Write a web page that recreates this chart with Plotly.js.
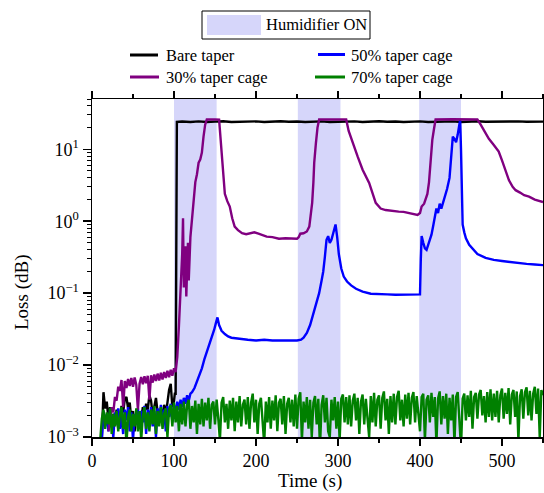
<!DOCTYPE html>
<html>
<head>
<meta charset="utf-8">
<script src="https://cdn.plot.ly/plotly-3.0.1.min.js"></script>
<style>html,body{margin:0;padding:0;background:#fff;}#chart{width:544px;height:493px;}</style>
</head>
<body>
<div id="chart"></div>
<script>
// ---------------- DATA ----------------
const humidStart = [100, 251, 399];
const humidEnd   = [152, 303, 450];

const yTickVals = [0.001, 0.01, 0.1, 1, 10];
const yTickText = ['10<sup>\u22123</sup>', '10<sup>\u22122</sup>', '10<sup>\u22121</sup>', '10<sup>0</sup>', '10<sup>1</sup>'];
const xTickVals = [0, 100, 200, 300, 400, 500];

const seriesNames = ['Bare taper', '50% taper cage', '30% taper cage', '70% taper cage'];

const bareT = [12,14,16,18,20,22,24,26,28,30,32,34,36,38,40,42,44,46,48,50,
  52,54,56,58,60,62,64,66,68,70,72,74,76,78,80,82,84,86,88,90,
  92,94,96,98,100,101,102,102.5,103,103.5,110,120,130,140,150,160,170,180,190,200,
  210,220,230,240,250,260,270,280,290,300,310,320,330,340,350,360,370,380,390,400,
  410,420,430,440,450,460,470,480,490,500,510,520,530,540,550];
const bareV = [0.0010,0.0042,0.0025,0.0031,0.0018,0.0026,0.0014,0.0021,0.0016,0.0024,
  0.0013,0.0019,0.0027,0.0022,0.0034,0.0036,0.0025,0.0030,0.0017,0.0023,
  0.0012,0.0020,0.0015,0.0022,0.0018,0.0026,0.0021,0.0029,0.0024,0.0038,
  0.0032,0.0020,0.0027,0.0035,0.0022,0.0016,0.0025,0.0019,0.0028,0.0021,
  0.0030,0.0045,0.0055,0.0026,0.0032,0.0040,0.0040,0.15,0.2,24,
  24.3,24.0,24.4,23.9,24.2,24.5,24.0,24.3,24.1,24.4,
  24.0,24.2,24.5,24.1,24.3,23.9,24.2,24.4,24.0,24.3,
  24.1,24.4,24.0,24.2,24.5,24.1,24.3,23.9,24.2,24.4,
  24.0,24.3,24.1,24.4,24.0,24.2,24.5,24.1,24.3,24.0,
  24.2,24.4,24.1,24.3,24.2];

const cage50T = [12,14,16,18,20,22,24,26,28,30,32,34,36,38,40,42,44,46,48,50,
  52,54,56,58,60,62,64,66,68,70,72,74,76,78,80,82,84,86,88,90,
  92,94,96,98,100,102,104,106,108,110,112,114,116,118,120,122,125,128,
  131,134,137,140,143,146,149,151,153,155,158,162,166,170,175,180,190,200,210,220,
  230,240,250,255,258,262,266,270,274,277,280,282,284,286,288,290,292,294,296,297,
  299,301,304,307,311,316,322,330,340,350,360,370,380,390,400,401,402,404,406,408,
  411,414,416,418,420,422,424,426,428,430,433,436,438,440,442,444,446,448,449,450,
  451,452,454,456,460,465,470,480,490,500,510,520,530,540,550];
const cage50V = [0.0009,0.0023,0.0014,0.0021,0.0012,0.0024,0.0016,0.0010,0.0022,0.0015,
  0.0025,0.0013,0.0020,0.0011,0.0024,0.0017,0.0026,0.0012,0.0022,0.0009,
  0.0021,0.0015,0.0025,0.0013,0.0023,0.0016,0.0027,0.0011,0.0024,0.0018,
  0.0026,0.0014,0.0023,0.0010,0.0025,0.0017,0.0028,0.0015,0.0024,0.0012,
  0.0027,0.0019,0.0029,0.0016,0.0028,0.0021,0.0031,0.0024,0.0033,0.0026,
  0.0035,0.0029,0.0038,0.0032,0.0040,0.0042,0.0048,0.0058,
  0.0072,0.0090,0.012,0.015,0.019,0.025,0.031,0.038,0.046,0.036,
  0.030,0.027,0.025,0.024,0.0235,0.023,0.0225,0.022,0.0225,0.022,
  0.0222,0.022,0.022,0.0225,0.024,0.028,0.036,0.052,0.075,0.10,
  0.15,0.2,0.32,0.55,0.62,0.5,0.55,0.7,0.85,0.9,
  0.6,0.35,0.22,0.17,0.145,0.128,0.115,0.105,0.098,0.096,
  0.096,0.095,0.096,0.095,0.096,0.3,0.62,0.5,0.42,0.4,
  0.5,0.65,0.85,1.2,1.5,1.3,1.75,1.5,1.8,2.0,
  2.8,4,8,15,14,12.5,16,25,26,10,
  1.5,0.9,0.7,0.58,0.47,0.4,0.35,0.31,0.29,0.28,
  0.27,0.265,0.255,0.25,0.245];

const cage30T = [20,22,24,26,28,30,32,34,36,38,40,42,44,46,48,50,52,54,56,58,
  60,62,64,66,68,70,72,74,76,78,80,82,84,86,88,90,92,94,96,98,100,102,
  104,106,108,110,111,112,114,115,117,118,120,122,124,126,128,130,132,134,136,138,
  140,145,150,155,157,159,162,165,168,171,174,178,183,188,193,198,203,208,213,220,
  228,236,244,250,252,254,258,262,265,267,268.5,270,271,273,275,277,290,300,310,313,
  318,324,330,338,346,352,358,366,374,380,388,397,400,402,405,407,409,411,413,415,
  417,419,440,460,470,474,478,484,490,496,500,504,508.5,513,516.6,522,527,533,540,550];
const cage30V = [0.0012,0.0018,0.0026,0.0022,0.0036,0.0032,0.0050,0.0044,0.0062,0.0026,
  0.0060,0.0048,0.0064,0.0051,0.0066,0.0050,0.0067,0.0053,0.0024,0.0055,
  0.0068,0.0054,0.0070,0.0056,0.0071,0.0033,0.0072,0.0057,0.0074,0.0060,
  0.0076,0.0061,0.0078,0.0063,0.0080,0.0066,0.0083,0.0068,0.0086,0.0071,0.0090,0.0080,
  0.013,0.035,0.09,0.35,1.1,0.12,0.45,0.09,0.5,0.15,
  0.6,1.2,2.2,3.5,4.5,6.5,7.2,9,15,22,
  26,26.2,26,25.8,12,6.4,2.4,1.9,1.6,1.1,
  0.84,0.75,0.68,0.66,0.68,0.7,0.67,0.64,0.61,0.6,
  0.57,0.58,0.57,0.57,0.6,0.67,0.68,0.72,0.84,1.2,
  1.8,3.5,6.5,12,20,26,26.2,26,26,18,
  12,7.9,5.2,3.4,1.8,1.5,1.43,1.38,1.36,1.35,
  1.28,1.22,1.3,1.6,1.75,2.1,2.4,3.5,8,13.5,
  19,26,26.2,26,26,22,18,14,11.5,9.3,
  7,5.2,3.7,3.0,2.7,2.5,2.3,2.2,2.0,1.85];

const cage70T = [10,12,14,16,18,20,22,24,26,28,30,32,34,36,38,40,42,44,46,48,
  50,52,54,56,58,60,62,64,66,68,70,72,74,76,78,80,82,84,86,88,
  90,92,94,96,98,100,102,104,106,108,110,112,114,116,118,120,122,124,126,128,
  130,132,134,136,138,140,142,144,146,148,150,152,154,156,158,160,162,164,166,168,
  170,172,174,176,178,180,182,184,186,188,190,192,194,196,198,200,202,204,206,208,
  210,212,214,216,218,220,222,224,226,228,230,232,234,236,238,240,242,244,246,248,
  250,252,254,256,258,260,262,264,266,268,270,272,274,276,278,280,282,284,286,288,
  290,292,294,296,298,300,302,304,306,308,310,312,314,316,318,320,322,324,326,328,
  330,332,334,336,338,340,342,344,346,348,350,352,354,356,358,360,362,364,366,368,
  370,372,374,376,378,380,382,384,386,388,390,392,394,396,398,400,402,404,406,408,
  410,412,414,416,418,420,422,424,426,428,430,432,434,436,438,440,442,444,446,448,
  450,452,454,456,458,460,462,464,466,468,470,472,474,476,478,480,482,484,486,488,
  490,492,494,496,498,500,502,504,506,508,510,512,514,516,518,520,522,524,526,528,
  530,532,534,536,538,540,542,544,546,548,550];
const cage70V = [
  0.0009,0.0018,0.0024,0.0013,0.0022,0.0015,0.0025,0.0011,0.0021,0.0014,
  0.0023,0.0012,0.0020,0.0026,0.0013,0.0022,0.0008,0.0019,0.0024,0.0012,
  0.0021,0.0014,0.0025,0.0012,0.0023,0.0009,0.0020,0.0026,0.0013,0.0022,
  0.0012,0.0024,0.0015,0.0027,0.0011,0.0023,0.0014,0.0026,0.0013,0.0021,
  0.0025,0.0010,0.0024,0.0028,0.0014,0.0030,0.0016,0.0027,0.0012,0.0029,
  0.0015,0.0031,0.0014,0.0028,0.0033,0.0013,0.0027,0.0016,0.0032,0.0011,
  0.0029,0.0015,0.0034,0.0014,0.0030,0.0017,0.0035,0.0013,0.0028,0.0031,
  0.0015,0.0033,0.0018,0.0009,0.0030,0.0036,0.0016,0.0029,0.0013,0.0032,
  0.0017,0.0035,0.0012,0.0031,0.0016,0.0037,0.0014,0.0028,0.0033,0.0015,
  0.0036,0.0013,0.0030,0.0040,0.0016,0.0033,0.0011,0.0029,0.0035,0.0015,
  0.0008,0.0031,0.0016,0.0036,0.0013,0.0032,0.0017,0.0038,0.0012,0.0030,
  0.0034,0.0015,0.0037,0.0011,0.0029,0.0035,0.0016,0.0033,0.0014,0.0039,
  0.0013,0.0034,0.0042,0.0009,0.0031,0.0016,0.0036,0.0013,0.0033,0.0010,
  0.0030,0.0037,0.0015,0.0034,0.0007,0.0028,0.0038,0.0016,0.0035,0.0012,
  0.0010,0.0033,0.0017,0.0036,0.0013,0.0031,0.0009,0.0034,0.0039,0.0016,
  0.0036,0.0015,0.0038,0.0014,0.0032,0.0040,0.0017,0.0035,0.0011,0.0031,
  0.0039,0.0015,0.0034,0.0018,0.0010,0.0037,0.0016,0.0041,0.0014,0.0033,
  0.0038,0.0013,0.0035,0.0043,0.0017,0.0034,0.0011,0.0037,0.0016,0.0040,
  0.0015,0.0036,0.0044,0.0017,0.0033,0.0014,0.0039,0.0018,0.0041,0.0015,
  0.0035,0.0042,0.0016,0.0037,0.0019,0.0012,0.0036,0.0040,0.0009,0.0033,
  0.0038,0.0016,0.0041,0.0019,0.0036,0.0008,0.0034,0.0043,0.0015,0.0037,
  0.0018,0.0040,0.0011,0.0035,0.0017,0.0039,0.0008,0.0036,0.0042,0.0016,
  0.0007,0.0034,0.0040,0.0017,0.0038,0.0019,0.0044,0.0013,0.0036,0.0041,
  0.0018,0.0039,0.0045,0.0020,0.0037,0.0016,0.0042,0.0019,0.0046,0.0017,
  0.0040,0.0019,0.0044,0.0016,0.0038,0.0047,0.0018,0.0041,0.0021,0.0048,
  0.0015,0.0039,0.0045,0.0019,0.0043,0.0009,0.0037,0.0046,0.0018,0.0042,
  0.0049,0.0020,0.0044,0.0017,0.0040,0.0050,0.0021,0.0047,0.0010,0.0045,
  0.0038];

// ---------------- STYLE / LAYOUT ----------------
const FONT = '"Liberation Serif", "Times New Roman", Times, serif';
const SHADE = 'rgb(214,214,250)';
const colors = ['#000000', '#0000ff', '#800080', '#008000'];
const W = 544, H = 493, ML = 92, MR = 1, MT = 99, MB = 56;
const PW = W - ML - MR, PH = H - MT - MB;
const px = X => (X - ML) / PW;
const py = Y => (H - MB - Y) / PH;

const xs = [bareT, cage50T, cage30T, cage70T];
const ys = [bareV, cage50V, cage30V, cage70V];
const traces = xs.map((x, i) => ({
  type: 'scatter', mode: 'lines', x: x, y: ys[i], name: seriesNames[i],
  line: {color: colors[i], width: 2.4}, showlegend: false
}));

const shapes = humidStart.map((s, i) => ({
  type: 'rect', xref: 'x', yref: 'paper', x0: s, x1: humidEnd[i], y0: 0, y1: 1,
  fillcolor: SHADE, line: {width: 0}, layer: 'below'
}));
shapes.push({type: 'rect', xref: 'paper', yref: 'paper', x0: px(202), x1: px(370), y0: py(39), y1: py(11),
  fillcolor: '#fff', line: {color: '#000', width: 1}, layer: 'above'});
shapes.push({type: 'rect', xref: 'paper', yref: 'paper', x0: px(207), x1: px(261), y0: py(35), y1: py(15),
  fillcolor: SHADE, line: {width: 0}, layer: 'above'});
const legPos = [[0, 130, 158, 55, 164, 56], [1, 318, 345, 54.5, 349, 55], [2, 130, 159, 77, 164, 77.5], [3, 315, 345, 77, 349, 77.5]];
const annotations = [];
legPos.forEach(p => {
  shapes.push({type: 'line', xref: 'paper', yref: 'paper', x0: px(p[1]), x1: px(p[2]), y0: py(p[3]), y1: py(p[3]),
    line: {color: colors[p[0]], width: 3}});
  annotations.push({xref: 'paper', yref: 'paper', x: px(p[4]), y: py(p[5]), xanchor: 'left', yanchor: 'middle',
    text: seriesNames[p[0]], showarrow: false, font: {family: FONT, size: 16.5, color: '#000'}});
});
annotations.push({xref: 'paper', yref: 'paper', x: px(264), y: py(24.5), xanchor: 'left', yanchor: 'middle',
  text: 'Humidifier ON', showarrow: false, font: {family: FONT, size: 16.5, color: '#000'}});
annotations.push({xref: 'paper', yref: 'paper', x: px(309.5), y: py(493), xanchor: 'center', yanchor: 'bottom',
  text: 'Time (s)', showarrow: false, borderpad: 0, font: {family: FONT, size: 19, color: '#000'}});
annotations.push({xref: 'paper', yref: 'paper', x: px(22), y: py(293), xanchor: 'center', yanchor: 'middle',
  text: 'Loss (dB)', textangle: -90, showarrow: false, font: {family: FONT, size: 19, color: '#000'}});

const axisCommon = {
  showline: true, linecolor: '#000', linewidth: 1.5, mirror: 'ticks',
  ticks: 'outside', tickcolor: '#000', tickwidth: 1.5, showgrid: false, zeroline: false,
  tickfont: {family: FONT, size: 18, color: '#000'}
};

const layout = {
  width: W, height: H,
  margin: {l: ML, r: MR, t: MT, b: MB, pad: 0},
  paper_bgcolor: '#fff', plot_bgcolor: '#fff',
  font: {family: FONT, color: '#000'},
  showlegend: false,
  xaxis: Object.assign({}, axisCommon, {
    range: [0, 550], tickmode: 'array', tickvals: xTickVals, ticklen: 7,
    minor: {ticks: 'outside', dtick: 50, tick0: 0, ticklen: 4, tickcolor: '#000', tickwidth: 1.2}
  }),
  yaxis: Object.assign({}, axisCommon, {
    type: 'log', range: [-3, Math.log10(50)], tickmode: 'array', tickvals: yTickVals, ticktext: yTickText, ticklen: 8,
    minor: {ticks: 'outside', dtick: 'D1', ticklen: 4, tickcolor: '#000', tickwidth: 1}
  }),
  shapes: shapes,
  annotations: annotations
};

Plotly.newPlot('chart', traces, layout, {staticPlot: true, displayModeBar: false});
</script>
</body>
</html>
